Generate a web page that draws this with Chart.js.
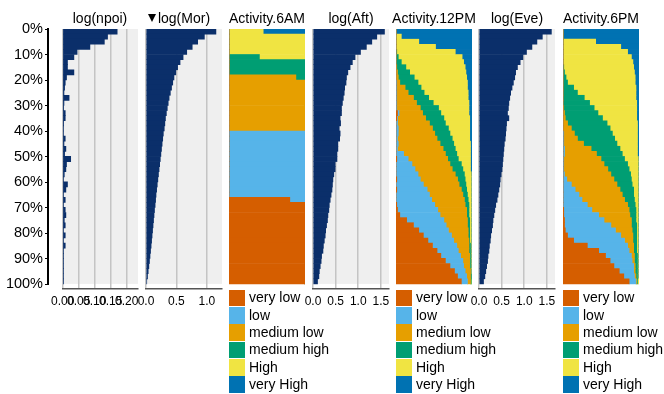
<!DOCTYPE html>
<html><head><meta charset="utf-8">
<script src="https://cdn.jsdelivr.net/npm/chart.js@4.4.1/dist/chart.umd.min.js"></script>
<style>
html,body{margin:0;padding:0;background:#fff;}
#wrap{position:relative;width:664px;height:394px;overflow:hidden;background:#fff;font-family:"Liberation Sans",Arial,Helvetica,sans-serif;color:#000;}
#wrap canvas{position:absolute;top:0;}
.ttl{position:absolute;top:9px;height:19px;line-height:19px;font-size:14px;text-align:center;white-space:nowrap;}
.tri{position:absolute;width:0;height:0;border-left:4.5px solid transparent;border-right:4.5px solid transparent;border-top:8px solid #000;}
.leg{position:absolute;top:289.3px;}
.row{position:relative;height:17.33px;}
.sw{position:absolute;left:0;top:0.4px;width:16px;height:16.5px;}
.lt{position:absolute;left:20px;top:0;line-height:17.33px;font-size:14px;white-space:nowrap;}
</style></head>
<body><div id="wrap"></div>
<script>
// ---------- data ----------
const columnTitles = ['log(npoi)', 'log(Mor)', 'Activity.6AM', 'log(Aft)', 'Activity.12PM', 'log(Eve)', 'Activity.6PM'];
const levelNames = ['very low', 'low', 'medium low', 'medium high', 'High', 'very High'];
const pctTicks = [0, 10, 20, 30, 40, 50, 60, 70, 80, 90, 100];
const npoiTicks = [0, 0.05, 0.10, 0.15, 0.20];
const morTicks = [0, 0.5, 1.0];
const aftTicks = [0, 0.5, 1.0, 1.5];
const eveTicks = [0, 0.5, 1.0, 1.5];

// 50 row bins (2% each), sorted by log(Mor) descending
const npoiValues = [0.17,0.14,0.13,0.085,0.045, 0.035,0.015,0.015,0.035,0.012, 0.008,0.006,0.004,0.02,0.004, 0.003,0.008,0.008,0.003,0.002, 0.002,0.008,0.004,0.01,0.006, 0.025,0.012,0.01,0.005,0.002, 0.015,0.01,0.002,0.008,0.002, 0.008,0.01,0.005,0.008,0.002, 0.008,0.002,0.008,0.002,0.002, 0.002,0.002,0.002,0.002,0.002];
const morValues = [1.15,0.96,0.85,0.76,0.67, 0.61,0.56,0.52,0.49,0.46, 0.44,0.42,0.40,0.38,0.365, 0.35,0.335,0.32,0.31,0.30, 0.285,0.275,0.265,0.255,0.245, 0.235,0.225,0.215,0.205,0.195, 0.185,0.175,0.165,0.158,0.15, 0.14,0.132,0.124,0.116,0.108, 0.1,0.092,0.084,0.075,0.066, 0.057,0.047,0.036,0.025,0.012];
const aftValues = [1.58,1.41,1.30,1.18,1.05, 0.93,0.87,0.82,0.77,0.74, 0.73,0.70,0.69,0.67,0.65, 0.63,0.63,0.60,0.61,0.58, 0.60,0.59,0.55,0.55,0.53, 0.53,0.49,0.49,0.46,0.44, 0.43,0.42,0.40,0.38,0.36, 0.35,0.33,0.32,0.30,0.28, 0.27,0.25,0.23,0.22,0.19, 0.18,0.16,0.14,0.13,0.10];
const eveValues = [1.60,1.40,1.28,1.17,1.05, 0.97,0.91,0.85,0.81,0.79, 0.76,0.73,0.70,0.68,0.66, 0.65,0.63,0.66,0.61,0.60, 0.59,0.58,0.56,0.55,0.54, 0.53,0.52,0.51,0.49,0.47, 0.46,0.44,0.42,0.40,0.37, 0.35,0.33,0.31,0.30,0.28, 0.26,0.25,0.23,0.22,0.20, 0.19,0.17,0.15,0.13,0.10];

// Activity.6AM shares (%) per bin
const am6VeryLow  = [0,0,0,0,0,0,0,0,0,0, 0,0,0,0,0,0,0,0,0,0, 0,0,0,0,0,0,0,0,0,0, 0,0,0,80,100,100,100,100,100,100, 100,100,100,100,100,100,100,100,100,100];
const am6Low      = [0,0,0,0,0,0,0,0,0,0, 0,0,0,0,0,0,0,0,0,0, 100,100,100,100,100,100,100,100,100,100, 100,100,100,20,0,0,0,0,0,0, 0,0,0,0,0,0,0,0,0,0];
const am6MedLow   = [0,0,0,0,0,0,0,0,0,88, 100,100,100,100,100,100,100,100,100,100, 0,0,0,0,0,0,0,0,0,0, 0,0,0,0,0,0,0,0,0,0, 0,0,0,0,0,0,0,0,0,0];
const am6MedHigh  = [0,0,0,0,0,40,100,100,100,12, 0,0,0,0,0,0,0,0,0,0, 0,0,0,0,0,0,0,0,0,0, 0,0,0,0,0,0,0,0,0,0, 0,0,0,0,0,0,0,0,0,0];
const am6High     = [45,100,100,100,100,60,0,0,0,0, 0,0,0,0,0,0,0,0,0,0, 0,0,0,0,0,0,0,0,0,0, 0,0,0,0,0,0,0,0,0,0, 0,0,0,0,0,0,0,0,0,0];
const am6VeryHigh = [55,0,0,0,0,0,0,0,0,0, 0,0,0,0,0,0,0,0,0,0, 0,0,0,0,0,0,0,0,0,0, 0,0,0,0,0,0,0,0,0,0, 0,0,0,0,0,0,0,0,0,0];

// Activity.12PM shares (%) per bin
const pm12VeryLow  = [0,0,0,0,0,0,0,0,0,0, 0,0,0,0,0,0,2,1,0,0, 0,0,0,0,0,1,0,0,0,1, 0,1,0,0,1,2,5,14,23,30, 36,42,48,54,59,65,71,77,81,86];
const pm12Low      = [0,0,0,0,0,0,0,0,0,0, 1,1,1,1,1,1,2,1,2,3, 3,2,3,2,10,15,21,25,29,31, 36,40,44,47,50,53,53,49,43,39, 37,34,32,28,26,23,18,14,12,8];
const pm12MedLow   = [0,0,0,0,0,0,0,1,2,3, 4,11,15,22,26,31,31,37,42,45, 48,52,55,60,55,52,50,49,49,49, 47,45,44,43,40,38,35,31,28,26, 22,20,16,14,12,9,8,7,5,4];
const pm12MedHigh  = [0,0,0,0,1,3,7,12,16,21, 24,21,21,20,22,24,24,24,21,21, 20,20,18,16,15,14,15,14,12,10, 9,7,6,5,5,3,3,3,3,2, 2,1,2,2,1,1,1,0,1,1];
const pm12High     = [0,7,30,52,77,84,82,78,74,69, 65,61,58,52,47,40,37,34,32,28, 26,23,22,20,18,16,12,10,9,8, 7,6,5,4,3,3,3,2,2,2, 2,2,1,1,1,1,1,1,0,1];
const pm12VeryHigh = [100,93,70,48,22,13,11,9,8,7, 6,6,5,5,4,4,4,3,3,3, 3,3,2,2,2,2,2,2,1,1, 1,1,1,1,1,1,1,1,1,1, 1,1,1,1,1,1,1,1,1,0];

// Activity.6PM shares (%) per bin
const pm6VeryLow  = [0,0,0,0,0,0,0,0,0,0, 0,0,0,0,0,0,0,0,0,0, 0,0,0,0,0,0,0,0,0,0, 0,0,0,0,0,1,1,2,2,3, 6,14,32,47,56,62,67,74,80,87];
const pm6Low      = [0,0,0,0,0,0,0,0,0,0, 0,0,0,0,0,0,0,0,0,0, 1,1,1,2,2,1,1,1,2,5, 11,16,21,25,32,37,46,52,61,66, 70,67,53,40,34,29,26,19,14,9];
const pm6MedLow   = [0,0,0,0,0,0,0,0,0,0, 0,0,0,0,0,1,2,3,6,11, 14,18,26,35,42,49,53,58,61,62, 60,59,57,56,53,49,41,36,27,22, 16,11,8,6,4,3,2,2,2,1];
const pm6MedHigh  = [0,0,0,0,0,0,0,1,2,4, 6,14,19,28,35,40,44,49,52,51, 50,49,44,38,34,31,31,28,26,23, 20,18,15,13,10,9,8,6,7,6, 5,5,4,4,4,4,3,3,2,1];
const pm6High     = [0,0,43,76,85,90,92,92,92,91, 89,82,77,68,62,56,51,45,40,36, 33,30,27,23,20,18,14,12,10,9, 8,6,6,5,4,3,3,3,2,2, 2,2,2,2,1,1,1,1,1,2];
const pm6VeryHigh = [100,100,57,24,15,10,8,7,6,5, 5,4,4,4,3,3,3,3,2,2, 2,2,2,2,2,1,1,1,1,1, 1,1,1,1,1,1,1,1,1,1, 1,1,1,1,1,1,1,1,1,0];

// ---------- styling ----------
const levelColors = ['#D55E00', '#56B4E9', '#E69F00', '#009E73', '#F0E442', '#0072B2'];
const NAVY = '#0b2f6a';
const PANEL_BG = '#efefef';
const GRID = '#c4c4c4';
Chart.defaults.font.family = '"Liberation Sans", Arial, Helvetica, sans-serif';
Chart.defaults.color = '#000';

const PLOT_TOP = 29, PLOT_BOTTOM = 289, PLOT_W = 76;
const TICK_PAD = 5;
const colLefts = [62, 146, 229, 313, 396, 479, 563];
const binLabels = Array.from({length: 51}, (_, i) => i < 50 ? (2 * i) + '-' + (2 * i + 2) + '%' : '');
const wrap = document.getElementById('wrap');

function makeCanvas(left, w, h) {
  const c = document.createElement('canvas');
  c.width = w; c.height = h;
  c.style.left = left + 'px'; c.style.width = w + 'px'; c.style.height = h + 'px';
  wrap.appendChild(c);
  return c;
}

const panelBg = {
  id: 'panelBg',
  beforeDraw(chart) {
    const a = chart.chartArea, ctx = chart.ctx;
    const binsBottom = a.top + (a.bottom - a.top) * 50 / 51;
    ctx.save();
    ctx.fillStyle = PANEL_BG;
    ctx.fillRect(a.left, a.top, a.right - a.left, binsBottom - a.top);
    ctx.restore();
  }
};

function numericChart(idx, values, max, ticks, decimals) {
  const pad = 16, h = 320;
  const axisH = 14.4 + 2 * TICK_PAD;
  const canvas = makeCanvas(colLefts[idx] - pad, PLOT_W + 2 * pad, h);
  new Chart(canvas, {
    type: 'bar',
    data: {labels: binLabels, datasets: [{data: values, backgroundColor: NAVY, borderWidth: 0, barPercentage: 1, categoryPercentage: 1}]},
    options: {
      responsive: false, animation: false, indexAxis: 'y',
      layout: {padding: {top: PLOT_TOP, left: pad, right: pad, bottom: h - PLOT_BOTTOM - axisH}},
      plugins: {legend: {display: false}, tooltip: {enabled: false}},
      scales: {
        y: {display: false},
        x: {
          min: 0, max: max,
          afterBuildTicks: s => { s.ticks = ticks.map(v => ({value: v})); },
          grid: {color: GRID, lineWidth: 1.5, drawTicks: false},
          border: {display: true, color: '#555', width: 1.5},
          ticks: {autoSkip: false, maxRotation: 0, minRotation: 0, padding: TICK_PAD, font: {size: 12}, color: '#000',
                  callback: v => Number(v).toFixed(decimals)}
        }
      }
    },
    plugins: [panelBg]
  });
}

function categoricalChart(idx, series) {
  const canvas = makeCanvas(colLefts[idx], PLOT_W, PLOT_BOTTOM);
  new Chart(canvas, {
    type: 'bar',
    data: {labels: binLabels, datasets: series.map((d, k) => ({label: levelNames[k], data: d, backgroundColor: levelColors[k], borderWidth: 0, barPercentage: 1, categoryPercentage: 1}))},
    options: {
      responsive: false, animation: false, indexAxis: 'y',
      layout: {padding: {top: PLOT_TOP, left: 0, right: 0, bottom: 0}},
      plugins: {legend: {display: false}, tooltip: {enabled: false}},
      scales: {
        x: {display: false, stacked: true, min: 0, max: 100},
        y: {display: false, stacked: true}
      }
    }
  });
  const leg = document.createElement('div');
  leg.className = 'leg';
  leg.style.left = colLefts[idx] + 'px';
  levelNames.forEach((n, k) => {
    const r = document.createElement('div'); r.className = 'row';
    const s = document.createElement('div'); s.className = 'sw'; s.style.background = levelColors[k];
    const t = document.createElement('div'); t.className = 'lt'; t.textContent = n;
    r.appendChild(s); r.appendChild(t); leg.appendChild(r);
  });
  wrap.appendChild(leg);
}

// y axis (percent of rows)
const axisCanvas = makeCanvas(0, 52, 296);
new Chart(axisCanvas, {
  type: 'line',
  data: {labels: [], datasets: []},
  options: {
    responsive: false, animation: false,
    layout: {padding: {top: PLOT_TOP, bottom: 296 - 284, left: 0, right: 0}},
    plugins: {legend: {display: false}, tooltip: {enabled: false}},
    scales: {
      x: {display: false},
      y: {
        type: 'linear', reverse: true, min: 0, max: 100,
        afterBuildTicks: s => { s.ticks = pctTicks.map(v => ({value: v})); },
        afterFit: s => { s.width = 48; },
        grid: {drawOnChartArea: false, color: '#000', tickLength: 3, lineWidth: 1},
        border: {display: true, color: '#000', width: 2, dash: [2, 1]},
        ticks: {padding: 2, font: {size: 14.5}, color: '#000', callback: v => v + '%'}
      }
    }
  }
});

numericChart(0, npoiValues, 0.235, npoiTicks, 2);
numericChart(1, morValues, 1.25, morTicks, 1);
categoricalChart(2, [am6VeryLow, am6Low, am6MedLow, am6MedHigh, am6High, am6VeryHigh]);
numericChart(3, aftValues, 1.68, aftTicks, 1);
categoricalChart(4, [pm12VeryLow, pm12Low, pm12MedLow, pm12MedHigh, pm12High, pm12VeryHigh]);
numericChart(5, eveValues, 1.68, eveTicks, 1);
categoricalChart(6, [pm6VeryLow, pm6Low, pm6MedLow, pm6MedHigh, pm6High, pm6VeryHigh]);

// column titles
columnTitles.forEach((t, i) => {
  const d = document.createElement('div');
  d.className = 'ttl';
  d.style.left = (colLefts[i] - 20) + 'px';
  d.style.width = (PLOT_W + 40) + 'px';
  d.textContent = t;
  wrap.appendChild(d);
});
// sort indicator on log(Mor)
const tri = document.createElement('div');
tri.className = 'tri';
tri.style.left = '148px'; tri.style.top = '14px';
wrap.appendChild(tri);
</script>
</body></html>
